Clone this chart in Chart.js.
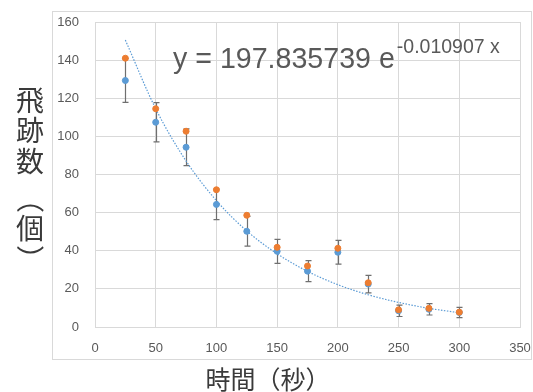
<!DOCTYPE html>
<html>
<head>
<meta charset="utf-8">
<script src="https://cdn.jsdelivr.net/npm/chart.js@4/dist/chart.umd.min.js"></script>
<style>
  body { margin: 0; background: #fff; }
</style>
</head>
<body>
<canvas id="myChart" width="533" height="392"></canvas>
<script>
const times = [25, 50, 75, 100, 125, 150, 175, 200, 225, 250, 275, 300];
const countsBlue = [129.3, 107.4, 94.3, 64.3, 50.2, 39.7, 29.3, 39.2, 22.5, 8.5, 9.3, 7.6];
const countsOrange = [141, 114.5, 102.7, 72, 58.6, 41.8, 32, 41.3, 23.2, 9, 9.8, 7.8];
const errBlue = [11.5, 10.3, 9.6, 8, 7.8, 6.3, 5.5, 6.2, 4.6, 3, 3, 2.7];
const trendVals = [150.5, 114.5, 87.1, 66.3, 50.4, 38.4, 29.2, 22.2, 16.9, 12.9, 9.8, 7.5];
const xTicks = [0, 50, 100, 150, 200, 250, 300, 350];
const yTicks = [0, 20, 40, 60, 80, 100, 120, 140, 160];

const toPts = (ys) => times.map((t, i) => ({ x: t, y: ys[i] }));

const gridColor = "#d9d9d9";
const textColor = "#595959";

// draw a full-width bracket turned on its side, centred on (cx, cy)
function sideBracket(ctx, ch, cx, cy) {
  ctx.save();
  ctx.translate(cx, cy);
  ctx.rotate(Math.PI / 2);
  ctx.textAlign = "left";
  ctx.textBaseline = "middle";
  const m = ctx.measureText(ch);
  const inkMid = (m.actualBoundingBoxRight - m.actualBoundingBoxLeft) / 2;
  const vMid = (m.actualBoundingBoxDescent - m.actualBoundingBoxAscent) / 2;
  ctx.fillText(ch, -inkMid, -vMid);
  ctx.restore();
}

// outer frame, error bars, labels and the fitted equation
const extras = {
  id: "extras",
  beforeDraw(chart) {
    const ctx = chart.ctx;
    ctx.save();
    ctx.fillStyle = "#fff";
    ctx.fillRect(0, 0, chart.width, chart.height);
    ctx.strokeStyle = gridColor;
    ctx.lineWidth = 1;
    ctx.strokeRect(52.5, 11.5, 479, 348);
    ctx.restore();
  },
  beforeDatasetsDraw(chart) {
    const ctx = chart.ctx;
    const xs = chart.scales.x, ys = chart.scales.y;
    ctx.save();
    ctx.strokeStyle = "#6f6f6f";
    ctx.lineWidth = 1.2;
    times.forEach((t, i) => {
      const px = Math.round(xs.getPixelForValue(t)) + 0.5;
      const top = ys.getPixelForValue(countsBlue[i] + errBlue[i]);
      const bot = ys.getPixelForValue(countsBlue[i] - errBlue[i]);
      ctx.beginPath();
      ctx.moveTo(px, top); ctx.lineTo(px, bot);
      ctx.moveTo(px - 3, top); ctx.lineTo(px + 3, top);
      ctx.moveTo(px - 3, bot); ctx.lineTo(px + 3, bot);
      ctx.stroke();
    });
    ctx.restore();
  },
  afterDraw(chart) {
    const ctx = chart.ctx;
    ctx.save();
    // equation
    ctx.fillStyle = textColor;
    ctx.textBaseline = "alphabetic";
    ctx.textAlign = "left";
    ctx.font = "28.6px 'Liberation Sans'";
    const main = "y = 197.835739 e";
    ctx.fillText(main, 173, 68);
    const w = ctx.measureText(main).width;
    ctx.font = "19.5px 'Liberation Sans'";
    ctx.fillText("-0.010907 x", 173 + w + 2, 53);

    // y title, vertical
    ctx.fillStyle = "#3a3a3a";
    ctx.font = "28px 'Noto Sans CJK JP'";
    ctx.textAlign = "center";
    ctx.textBaseline = "middle";
    const yChars = [["飛", 100], ["跡", 130], ["数", 161], ["個", 228]];
    yChars.forEach(([c, y]) => ctx.fillText(c, 30, y));
    sideBracket(ctx, "（", 30, 208);
    sideBracket(ctx, "）", 30, 250);

    // x title
    ctx.textAlign = "center";
    ctx.textBaseline = "middle";
    ctx.font = "25px 'Noto Sans CJK JP'";
    ctx.fillText("時間（秒）", 268, 379);
    ctx.restore();
  }
};

const data = {
  datasets: [
    {
      label: "orange",
      data: toPts(countsOrange),
      backgroundColor: "#ed7d31",
      borderColor: "#ed7d31",
      pointRadius: 3,
      showLine: false,
    },
    {
      label: "blue",
      data: toPts(countsBlue),
      backgroundColor: "#5b9bd5",
      borderColor: "#5b9bd5",
      pointRadius: 3,
      showLine: false,
    },
    {
      label: "trend",
      data: toPts(trendVals),
      showLine: true,
      borderColor: "#5b9bd5",
      borderWidth: 1.2,
      borderDash: [1.5, 1.5],
      pointRadius: 0,
      cubicInterpolationMode: "monotone",
    },
  ],
};

const config = {
  type: "scatter",
  data: data,
  options: {
    responsive: false,
    animation: false,
    layout: { padding: { left: 0, top: 22, right: 13, bottom: 0 } },
    plugins: {
      legend: { display: false },
      tooltip: { enabled: false },
    },
    scales: {
      x: {
        type: "linear",
        min: 0,
        max: 350,
        afterBuildTicks: (s) => { s.ticks = xTicks.map((v) => ({ value: v })); },
        afterFit: (s) => { s.height = 65; s.paddingLeft = 0; s.paddingRight = 0; },
        grid: { color: gridColor, drawTicks: false },
        border: { color: gridColor },
        ticks: { color: textColor, padding: 14, font: { family: "Liberation Sans", size: 13 }, maxRotation: 0 },
      },
      y: {
        min: 0,
        max: 160,
        afterBuildTicks: (s) => { s.ticks = yTicks.map((v) => ({ value: v })); },
        afterFit: (s) => { s.width = 95; s.paddingTop = 0; s.paddingBottom = 0; },
        grid: { color: gridColor, drawTicks: false },
        border: { color: gridColor },
        ticks: { color: textColor, padding: 16, font: { family: "Liberation Sans", size: 13 } },
      },
    },
  },
  plugins: [extras],
};

const ctx = document.getElementById("myChart").getContext("2d");
const myChart = new Chart(ctx, config);
</script>
</body>
</html>
